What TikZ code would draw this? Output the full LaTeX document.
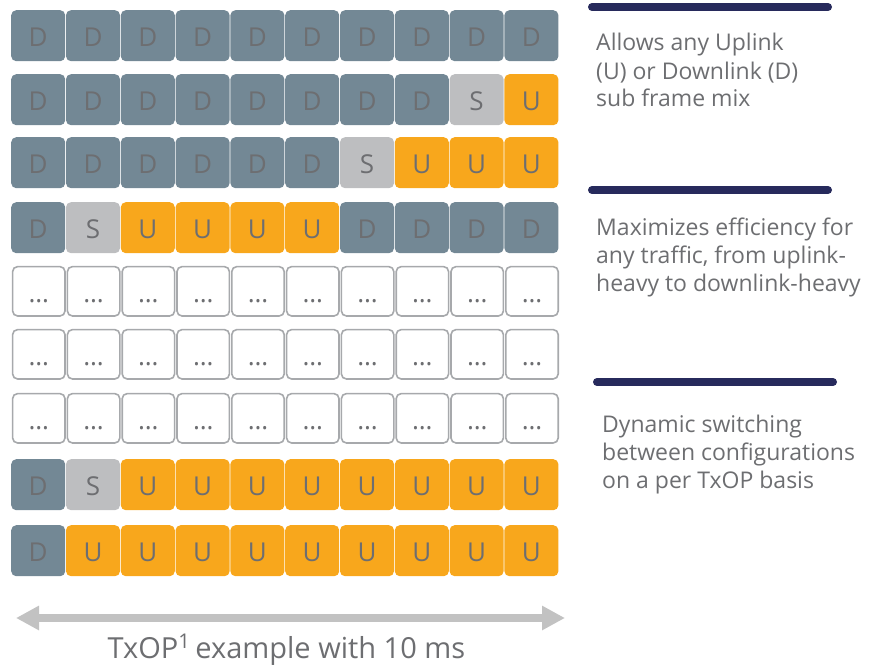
\documentclass[tikz,border=0pt]{standalone}
\usepackage{fontspec}
\setmainfont{Open Sans}
\usetikzlibrary{arrows.meta}
\definecolor{dcol}{HTML}{738895}
\definecolor{scol}{HTML}{BDBEC0}
\definecolor{ucol}{HTML}{F8A71C}
\definecolor{txt}{HTML}{6D6E71}
\definecolor{ecol}{HTML}{A7A9AC}
\definecolor{arrcol}{HTML}{C2C2C2}
\definecolor{barcol}{HTML}{272A5C}
\newcommand\celltxtD{D}
\newcommand\celltxtS{S}
\newcommand\celltxtU{U}
\newcommand\celltxtE{…}
\begin{document}
\begin{tikzpicture}[x=1pt,y=-1pt,
  cell/.style={rounded corners=5pt, minimum width=54pt, minimum height=51pt, inner sep=0pt,
    font=\fontsize{26}{26}\selectfont, text=txt, text height=22pt, text depth=0pt, anchor=north west},
  cD/.style={cell, fill=dcol},
  cS/.style={cell, fill=scol},
  cU/.style={cell, fill=ucol},
  cE/.style={cell, fill=white, draw=ecol, line width=1.6pt, minimum width=52.4pt, minimum height=49.4pt,
    xshift=0.8pt, yshift=-0.8pt},
  bar/.style={draw=barcol, line width=8pt, line cap=round},
  desc/.style={font=\fontsize{23}{28}\selectfont, text=txt, align=left, inner sep=0pt, anchor=base west},
  arr/.style={draw=arrcol, line width=8pt, {Triangle[length=23pt,width=23pt]}-{Triangle[length=23pt,width=23pt]}}
]
\useasboundingbox (0,0) rectangle (870,666);
\foreach \r/\y/\spec in {
  1/10/{D,D,D,D,D,D,D,D,D,D},
  2/74/{D,D,D,D,D,D,D,D,S,U},
  3/137/{D,D,D,D,D,D,S,U,U,U},
  4/202/{D,S,U,U,U,U,D,D,D,D},
  5/265/{E,E,E,E,E,E,E,E,E,E},
  6/328/{E,E,E,E,E,E,E,E,E,E},
  7/392/{E,E,E,E,E,E,E,E,E,E},
  8/459/{D,S,U,U,U,U,U,U,U,U},
  9/525/{D,U,U,U,U,U,U,U,U,U}}{
  \foreach \k [count=\c] in \spec {
    \node[c\k] (c-\r-\c) at ({11+(\c-1)*54.8},\y) {\csname celltxt\k\endcsname};
  }
}
% bottom arrow
\coordinate (aL) at (16,618);
\coordinate (aR) at (565,618);
\draw[arr] (aL) -- (aR);
\node[font=\fontsize{29}{29}\selectfont, text=txt, anchor=base, inner sep=0pt] (cap) at (286.5,658)
  {TxOP\textsuperscript{1}\,example with 10 ms};
% right side
\coordinate (b1s) at (592,7);   \coordinate (b1e) at (828,7);
\coordinate (b2s) at (592,190); \coordinate (b2e) at (828,190);
\coordinate (b3s) at (597,382); \coordinate (b3e) at (833,382);
\draw[bar] (b1s) -- (b1e);
\draw[bar] (b2s) -- (b2e);
\draw[bar] (b3s) -- (b3e);
\node[desc] (t1) at (596,107) {Allows any Uplink\\(U) or Downlink (D)\\sub frame mix};
\node[desc] (t2) at (596,291) {Maximizes efficiency for\\any traffic, from uplink-\\heavy to downlink-heavy};
\node[desc] (t3) at (602,488) {Dynamic switching\\between configurations\\on a per TxOP basis};
\end{tikzpicture}
\end{document}
